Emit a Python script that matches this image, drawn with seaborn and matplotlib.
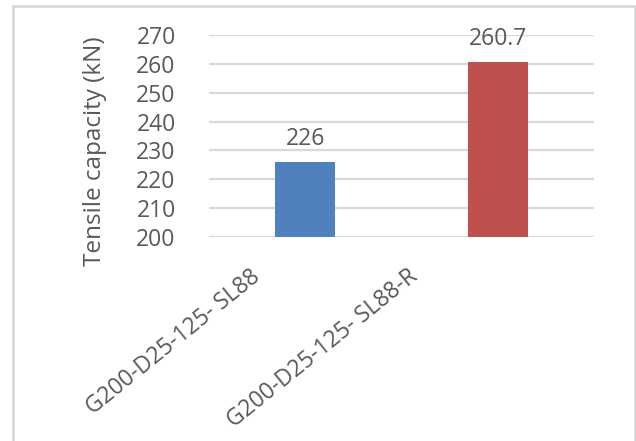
import numpy as np
import pandas as pd
import matplotlib
matplotlib.use("Agg")
import matplotlib.pyplot as plt
import matplotlib.transforms as mtransforms
from matplotlib.patches import Rectangle
import seaborn as sns

# Data
specimens = ["G200-D25-125- SL88", "G200-D25-125- SL88-R"]
capacity_kn = [226, 260.7]
value_labels = ["226", "260.7"]
bar_colors = ["#4F81BD", "#C0504D"]
y_ticks = [200, 210, 220, 230, 240, 250, 260, 270]

text_gray = "#595959"
grid_gray = "#D9D9D9"

sns.set_theme(style="white")
plt.rcParams["font.family"] = ["Open Sans", "DejaVu Sans"]

df = pd.DataFrame({"specimen": specimens, "capacity": capacity_kn})

fig = plt.figure(figsize=(6.36, 4.41), dpi=100)
ax = fig.add_axes([0.3286, 0.4626, 0.6054, 0.458])

sns.barplot(data=df, x="specimen", y="capacity", hue="specimen",
            palette=bar_colors, width=0.31, legend=False, ax=ax,
            saturation=1, edgecolor="none")

ax.set_ylim(200, 270)
ax.set_yticks(y_ticks)
ax.set_xlim(-0.5, 1.5)
ax.yaxis.grid(True, color=grid_gray, linewidth=1.6)
ax.set_axisbelow(True)
for s in ax.spines.values():
    s.set_visible(False)

ax.tick_params(axis="y", length=0, pad=24, labelsize=16.5, labelcolor=text_gray)
ax.tick_params(axis="x", length=0, pad=4, labelsize=16.5, labelcolor=text_gray)
ax.set_xlabel("")
ax.set_ylabel("Tensile capacity (kN)", fontsize=17.5, color=text_gray)
ax.yaxis.set_label_coords(-0.265, 0.425)

# rotated category labels, shifted left like the reference (inches)
label_shifts = [-0.56, -0.90]
for lbl, dx in zip(ax.get_xticklabels(), label_shifts):
    offset = mtransforms.ScaledTranslation(dx, -0.22, fig.dpi_scale_trans)
    lbl.set_rotation(39)
    lbl.set_ha("right")
    lbl.set_va("top")
    lbl.set_rotation_mode("anchor")
    lbl.set_transform(lbl.get_transform() + offset)

# value labels above bars
for i, (v, t) in enumerate(zip(capacity_kn, value_labels)):
    ax.annotate(t, (i, v), xytext=(0, 8), textcoords="offset points",
                ha="center", va="bottom", fontsize=16.5, color=text_gray)

# chart border like the Excel chart area
fig.patches.append(Rectangle((13 / 636, -0.05), 622 / 636, 1.05 - 6 / 441,
                             transform=fig.transFigure, fill=False,
                             edgecolor=grid_gray, linewidth=2))

fig.savefig("out.png", dpi=100)
